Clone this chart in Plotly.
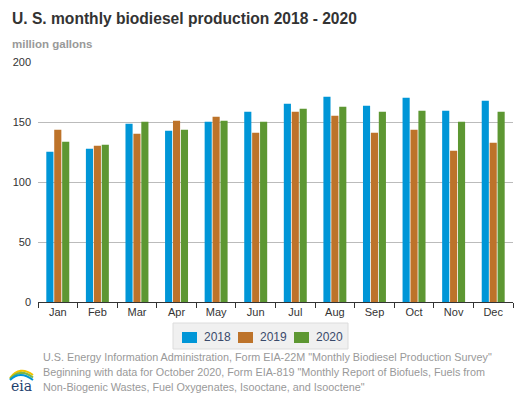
import plotly.graph_objects as go

months = ["Jan", "Feb", "Mar", "Apr", "May", "Jun",
          "Jul", "Aug", "Sep", "Oct", "Nov", "Dec"]
prod_2018 = [125.2, 127.7, 148.6, 142.8, 150.3, 158.6,
             165.3, 171.1, 163.6, 170.3, 159.4, 167.8]
prod_2019 = [143.6, 130.2, 140.3, 151.1, 154.4, 141.1,
             158.6, 155.3, 141.1, 143.6, 126.1, 132.8]
prod_2020 = [133.6, 131.1, 150.3, 143.6, 151.1, 150.3,
             161.1, 162.8, 158.6, 159.4, 150.3, 158.6]

series = [
    ("2018", prod_2018, "#0096d7"),
    ("2019", prod_2019, "#bd732a"),
    ("2020", prod_2020, "#5d9732"),
]

source_lines = [
    'U.S. Energy Information Administration, Form EIA-22M "Monthly Biodiesel Production Survey"',
    'Beginning with data for October 2020, Form EIA-819 "Monthly Report of Biofuels, Fuels from',
    'Non-Biogenic Wastes, Fuel Oxygenates, Isooctane, and Isooctene"',
]

FONT = "Liberation Sans, Arial, sans-serif"

fig = go.Figure()
for name, vals, color in series:
    fig.add_trace(go.Bar(x=months, y=vals, name=name, marker_color=color,
                         marker_line_width=0, showlegend=False))

# the page puts the figure 8px in from the window corner
OFF = 8
W, H = 525 - OFF, 400 - OFF
# plot area in window pixels: x 38..513, y 62..302
L, R, T, B = 38 - OFF, 12, 62 - OFF, 400 - 302
pw, ph = W - L - R, H - T - B


def px(x):
    return (x - OFF - L) / pw


def py(y):
    return (H - B - (y - OFF)) / ph


annotations = [
    dict(text="<b>U. S. monthly biodiesel production 2018 - 2020</b>",
         x=px(10), y=py(18), xref="paper", yref="paper",
         xanchor="left", yanchor="middle", showarrow=False,
         font=dict(family=FONT, size=15.6, color="#333333")),
    dict(text="<b>million gallons</b>",
         x=px(10), y=py(44), xref="paper", yref="paper",
         xanchor="left", yanchor="middle", showarrow=False,
         font=dict(family=FONT, size=11.5, color="#999999")),
    dict(text="eia", x=px(9), y=py(386), xref="paper", yref="paper",
         xanchor="left", yanchor="middle", showarrow=False,
         font=dict(family="DejaVu Serif, serif", size=14, color="#1d3f6e")),
]
for i, line in enumerate(source_lines):
    annotations.append(dict(
        text=line, x=px(41), y=py(357 + 15 * i), xref="paper", yref="paper",
        xanchor="left", yanchor="middle", showarrow=False,
        font=dict(family=FONT, size=10.8, color="#999999")))

shapes = []
for dy, col in [(0, "#f2c300"), (2.5, "#7ab648"), (5, "#0096d7")]:
    x0, x1 = px(10), px(33)
    y0, y1 = py(378 + dy * 0.4), py(375 + dy)
    cx, cy = px(20), py(365 + dy)
    shapes.append(dict(type="path", xref="paper", yref="paper",
                       path=f"M {x0},{y0} Q {cx},{cy} {x1},{y1}",
                       line=dict(color=col, width=2)))

# legend box drawn by hand so the spacing matches
shapes.append(dict(type="rect", xref="paper", yref="paper",
                   x0=px(173), x1=px(348), y0=py(349), y1=py(323),
                   fillcolor="#f0f0f0", line=dict(color="#dcdcdc", width=1),
                   layer="below"))
for n, (name, _, color) in enumerate(series):
    sx = 182 + 56 * n
    shapes.append(dict(type="rect", xref="paper", yref="paper",
                       x0=px(sx), x1=px(sx + 15), y0=py(343), y1=py(332),
                       fillcolor=color, line=dict(width=0)))
    annotations.append(dict(
        text=name, x=px(sx + 20), y=py(337), xref="paper", yref="paper",
        xanchor="left", yanchor="middle", showarrow=False,
        font=dict(family=FONT, size=12, color="#3a4a6b")))

fig.update_layout(
    width=W, height=H,
    margin=dict(l=L, r=R, t=T, b=B, autoexpand=False),
    paper_bgcolor="white", plot_bgcolor="white",
    barmode="group", bargap=0.4, bargroupgap=0.1,
    showlegend=False,
    font=dict(family=FONT, size=11, color="#333333"),
    xaxis=dict(showline=True, linecolor="#333333", linewidth=1,
               ticks="outside", tickson="boundaries", ticklen=5,
               tickcolor="#333333", showgrid=False, automargin=False,
               tickfont=dict(size=11, color="#333333")),
    yaxis=dict(range=[0, 200], dtick=50, showgrid=True, gridcolor="#bbbbbb",
               gridwidth=1, zeroline=False, showline=False, ticks="",
               automargin=False, ticklabelstandoff=6,
               tickfont=dict(size=11, color="#333333")),
    annotations=annotations,
    shapes=shapes,
)

fig.write_html("out.html")
